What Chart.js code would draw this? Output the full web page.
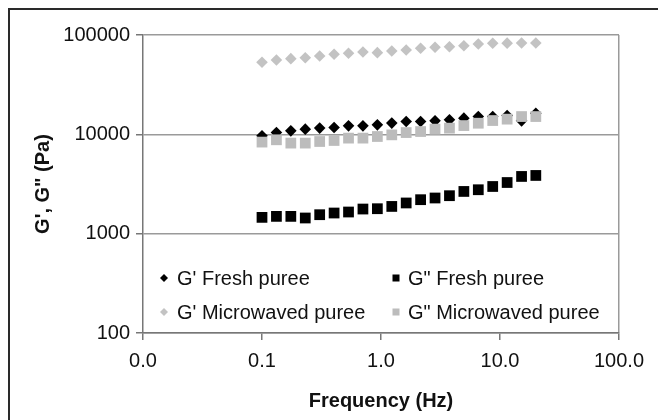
<!DOCTYPE html>
<html><head><meta charset="utf-8">
<script src="https://cdn.jsdelivr.net/npm/chart.js@4/dist/chart.umd.min.js"></script>
<style>html,body{margin:0;padding:0;background:#fff}#wrap{width:658px;height:420px;position:relative}</style>
</head><body><div id="wrap"><canvas id="c" width="658" height="420"></canvas></div>
<script>
const frequencyHz = [0.1, 0.1322, 0.1747, 0.231, 0.3053, 0.4035, 0.5334, 0.7051, 0.932, 1.232, 1.628, 2.152, 2.845, 3.761, 4.971, 6.571, 8.686, 11.48, 15.18, 20.0];
const gPrimeFresh = [9660, 10430, 10840, 11280, 11550, 11710, 12170, 12170, 12460, 12970, 13450, 13450, 13670, 13990, 14550, 15100, 15100, 15450, 13670, 16330];
const gDoubleFresh = [1459, 1493, 1493, 1438, 1552, 1614, 1652, 1770, 1783, 1880, 2037, 2198, 2286, 2411, 2661, 2768, 2985, 3273, 3767, 3855];
const gPrimeMicro = [53200, 56100, 57800, 59100, 61500, 64000, 65500, 67500, 66400, 69100, 70700, 73500, 75200, 76200, 78000, 81200, 82500, 82800, 83000, 83000];
const gDoubleMicro = [8355, 8810, 8160, 8160, 8470, 8670, 9160, 9160, 9510, 9880, 10420, 10670, 11280, 11540, 12250, 12940, 13770, 14220, 15100, 15100];
const seriesLabels = ["G' Fresh puree", 'G" Fresh puree', "G' Microwaved puree", 'G" Microwaved puree'];
const xTickValues = [0.01, 0.1, 1, 10, 100];
const xTickLabels = ['0.0', '0.1', '1.0', '10.0', '100.0'];
const yTickValues = [100, 1000, 10000, 100000];
const yTickLabels = ['100', '1000', '10000', '100000'];

const FONT = "'Liberation Sans', Arial, sans-serif";
Chart.defaults.font.family = FONT;
Chart.defaults.font.size = 20;
Chart.defaults.color = '#111';

const pts = arr => frequencyHz.map((x, i) => ({x: x, y: arr[i]}));

const frame = {
  id: 'frame',
  beforeDraw(chart) {
    const ctx = chart.ctx;
    ctx.save();
    ctx.fillStyle = '#fff';
    ctx.fillRect(0, 0, chart.width, chart.height);
    ctx.strokeStyle = '#2a2a2a';
    ctx.lineWidth = 2;
    ctx.beginPath();
    ctx.moveTo(9, chart.height + 5);
    ctx.lineTo(9, 9);
    ctx.lineTo(chart.width + 5, 9);
    ctx.stroke();
    ctx.restore();
  }
};

const innerLegend = {
  id: 'innerLegend',
  afterDraw(chart, args, opts) {
    const ctx = chart.ctx;
    ctx.save();
    ctx.font = '20px ' + FONT;
    ctx.textBaseline = 'middle';
    ctx.textAlign = 'left';
    chart.data.datasets.forEach((ds, i) => {
      const col = i % 2, row = Math.floor(i / 2);
      const mx = opts.markerX[col], tx = opts.textX[col], y = opts.rowY[row];
      ctx.fillStyle = ds.backgroundColor;
      ctx.beginPath();
      if (ds.pointStyle === 'rectRot') {
        const r = 4;
        ctx.moveTo(mx - r, y); ctx.lineTo(mx, y - r); ctx.lineTo(mx + r, y); ctx.lineTo(mx, y + r);
        ctx.closePath(); ctx.fill();
      } else {
        ctx.fillRect(mx - 3.5, y - 3.5, 7, 7);
      }
      ctx.fillStyle = '#111';
      ctx.fillText(ds.label, tx, y + 1);
    });
    ctx.restore();
  }
};

new Chart(document.getElementById('c'), {
  type: 'scatter',
  data: {
    datasets: [
      {label: seriesLabels[0], data: pts(gPrimeFresh), pointStyle: 'rectRot', pointRadius: 5.8, backgroundColor: '#000', borderWidth: 0, order: 4},
      {label: seriesLabels[1], data: pts(gDoubleFresh), pointStyle: 'rect', pointRadius: 7.6, backgroundColor: '#000', borderWidth: 0, order: 3},
      {label: seriesLabels[2], data: pts(gPrimeMicro), pointStyle: 'rectRot', pointRadius: 5.8, backgroundColor: '#c3c3c3', borderWidth: 0, order: 2},
      {label: seriesLabels[3], data: pts(gDoubleMicro), pointStyle: 'rect', pointRadius: 7.6, backgroundColor: '#bcbcbc', borderWidth: 0, order: 1}
    ]
  },
  options: {
    responsive: false,
    animation: false,
    events: [],
    layout: {padding: {left: 0, top: 35, right: 39, bottom: 0}},
    plugins: {
      legend: {display: false},
      tooltip: {enabled: false},
      innerLegend: {markerX: [164, 396], textX: [177, 408], rowY: [278, 312]}
    },
    scales: {
      x: {
        type: 'logarithmic', min: 0.01, max: 100,
        afterBuildTicks: s => { s.ticks = xTickValues.map(v => ({value: v})); },
        afterFit: s => { s.height = 87; },
        ticks: {autoSkip: false, maxRotation: 0, padding: 9, color: '#111',
          callback: v => xTickLabels[xTickValues.indexOf(v)]},
        grid: {drawOnChartArea: true, tickLength: 7, lineWidth: 1.5,
          color: c => (c.tick && c.tick.value === 100) ? '#9a9a9a' : 'rgba(0,0,0,0)', tickColor: '#777'},
        border: {color: '#777', width: 1.5},
        title: {display: true, text: 'Frequency (Hz)', font: {weight: 'bold', size: 20}, color: '#111', padding: {top: 0, bottom: 7}}
      },
      y: {
        type: 'logarithmic', min: 100, max: 100000,
        afterBuildTicks: s => { s.ticks = yTickValues.map(v => ({value: v})); },
        afterFit: s => { s.width = 143; },
        ticks: {autoSkip: false, padding: 6, color: '#111',
          callback: v => yTickLabels[yTickValues.indexOf(v)]},
        grid: {tickLength: 7, color: '#9a9a9a', tickColor: '#777', lineWidth: 1.5},
        border: {color: '#777', width: 1.5},
        title: {display: true, text: 'G\', G" (Pa)', font: {weight: 'bold', size: 20}, color: '#111', padding: {top: 31, bottom: 0}}
      }
    }
  },
  plugins: [frame, innerLegend]
});
</script></body></html>
